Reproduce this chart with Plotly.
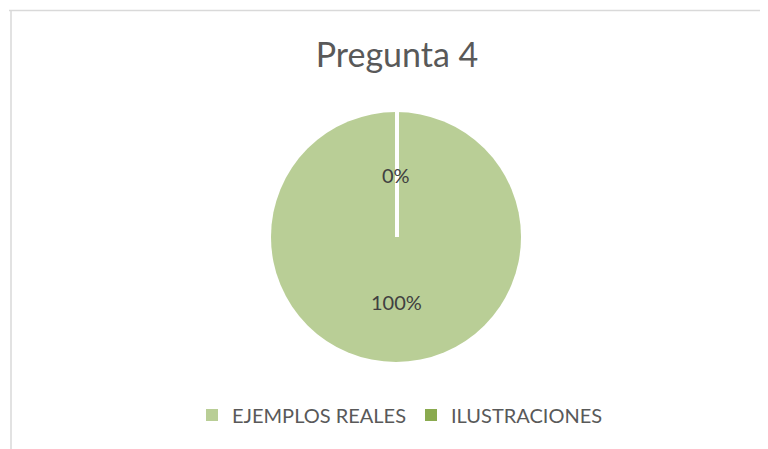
import math
import plotly.graph_objects as go

W, H = 768, 449
OFF = 8  # the page body adds 8px margin, so shift everything back

# data
labels = ["EJEMPLOS REALES", "ILUSTRACIONES"]
values = [100, 0]
colors = ["#B9CE96", "#8AAA4F"]
title_text = "Pregunta 4"

# pie placement in screen pixels (center and radius)
cx, cy, r = 396, 237, 125


def px_x(x):
    return (x - OFF) / W


def px_y(y):
    return 1 - (y - OFF) / H


fig = go.Figure()
fig.add_trace(
    go.Pie(
        labels=labels,
        values=values,
        marker=dict(colors=colors, line=dict(color="white", width=0)),
        sort=False,
        direction="clockwise",
        rotation=0,
        textinfo="none",
        hoverinfo="label+percent",
        domain=dict(x=[px_x(cx - r), px_x(cx + r)], y=[px_y(cy + r), px_y(cy - r)]),
    )
)

# percent labels at each slice's mid angle, like Excel does
total = sum(values)
start = 0.0
annotations = []
for lab, v in zip(labels, values):
    frac = v / total
    mid = (start + frac / 2) * 2 * math.pi
    start += frac
    dist = 0.52 * r if frac > 0 else 0.5 * r
    ax = cx + dist * math.sin(mid)
    ay = cy - dist * math.cos(mid)
    annotations.append(
        dict(
            x=px_x(ax), y=px_y(ay), xref="paper", yref="paper",
            text=f"{round(frac * 100)}%", showarrow=False,
            font=dict(size=20, color="#404040", family="Lato"),
        )
    )

shapes = [
    # white separator of the empty slice
    dict(type="line", xref="paper", yref="paper",
         x0=px_x(cx + 1), x1=px_x(cx + 1), y0=px_y(cy), y1=px_y(cy - r - 1),
         line=dict(color="white", width=4)),
    # chart area border (top and left)
    dict(type="line", xref="paper", yref="paper",
         x0=px_x(9), x1=1, y0=px_y(10.5), y1=px_y(10.5),
         line=dict(color="#D9D9D9", width=1.5)),
    dict(type="line", xref="paper", yref="paper",
         x0=px_x(11), x1=px_x(11), y0=px_y(10.5), y1=0,
         line=dict(color="#D9D9D9", width=1.5)),
]

fig.update_layout(
    width=W,
    height=H,
    margin=dict(l=0, r=0, t=0, b=0),
    paper_bgcolor="white",
    title=dict(text=title_text, x=px_x(397), xanchor="center",
               y=px_y(55), yanchor="middle",
               font=dict(size=34, color="#595959", family="Lato")),
    legend=dict(orientation="h", x=px_x(400), xanchor="center",
                y=px_y(415), yanchor="middle",
                font=dict(size=20, color="#595959", family="Lato"),
                itemwidth=30),
    annotations=annotations,
    shapes=shapes,
)

fig.write_html("out.html")
